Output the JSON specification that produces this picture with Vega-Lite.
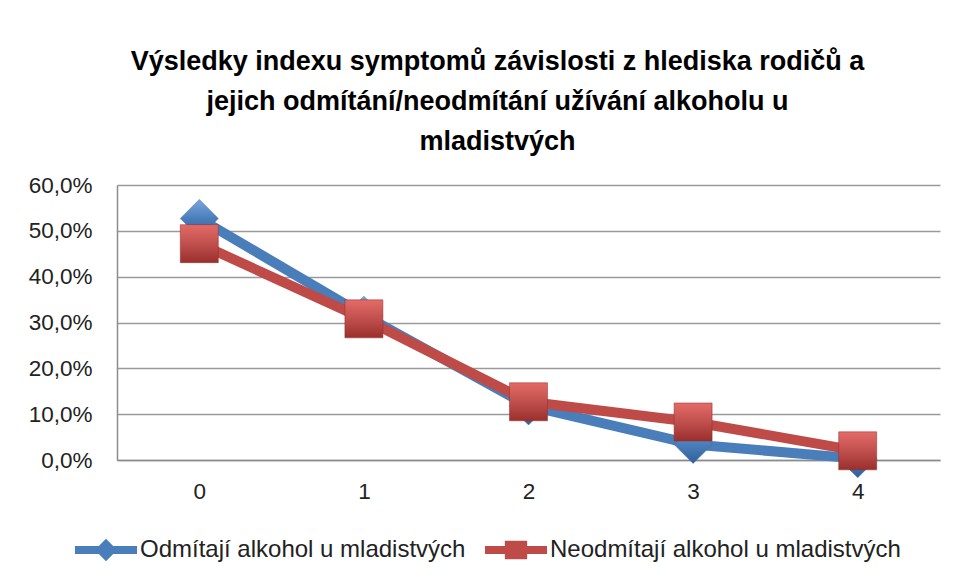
{
  "$schema": "https://vega.github.io/schema/vega-lite/v6.json",
  "width": 823,
  "height": 275,
  "autosize": {"type": "none"},
  "padding": {"left": 117, "top": 185, "right": 17, "bottom": 123},
  "background": "white",
  "config": {"view": {"stroke": null}, "font": "Liberation Sans"},
  "title": {
    "text": ["Výsledky indexu symptomů závislosti z hlediska rodičů a", "jejich odmítání/neodmítání  užívání alkoholu u", "mladistvých"],
    "fontSize": 27,
    "fontWeight": "bold",
    "font": "Liberation Sans",
    "color": "#000000",
    "lineHeight": 40,
    "anchor": "middle",
    "dx": -31,
    "offset": 18
  },
  "data": {
    "values": [
      {"index": "0", "series": "Odmítají alkohol u mladistvých", "value": 0.527},
      {"index": "1", "series": "Odmítají alkohol u mladistvých", "value": 0.316},
      {"index": "2", "series": "Odmítají alkohol u mladistvých", "value": 0.118},
      {"index": "3", "series": "Odmítají alkohol u mladistvých", "value": 0.034},
      {"index": "4", "series": "Odmítají alkohol u mladistvých", "value": 0.003},
      {"index": "0", "series": "Neodmítají alkohol u mladistvých", "value": 0.472},
      {"index": "1", "series": "Neodmítají alkohol u mladistvých", "value": 0.308},
      {"index": "2", "series": "Neodmítají alkohol u mladistvých", "value": 0.127},
      {"index": "3", "series": "Neodmítají alkohol u mladistvých", "value": 0.083},
      {"index": "4", "series": "Neodmítají alkohol u mladistvých", "value": 0.020}
    ]
  },
  "encoding": {
    "x": {
      "field": "index",
      "type": "ordinal",
      "axis": {
        "title": null,
        "labelAngle": 0,
        "labelFontSize": 22.5,
        "labelFont": "Liberation Sans",
        "labelColor": "#222222",
        "labelPadding": 20,
        "ticks": false,
        "domainColor": "#8c8c8c",
        "domainWidth": 1.5,
        "grid": false
      }
    },
    "y": {
      "field": "value",
      "type": "quantitative",
      "scale": {"domain": [0, 0.6]},
      "axis": {
        "title": null,
        "values": [0, 0.1, 0.2, 0.3, 0.4, 0.5, 0.6],
        "labelExpr": "replace(format(datum.value, '.1%'), '.', ',')",
        "labelFontSize": 22.5,
        "labelFont": "Liberation Sans",
        "labelColor": "#222222",
        "labelPadding": 25,
        "ticks": false,
        "domainColor": "#8c8c8c",
        "domainWidth": 1.5,
        "gridColor": "#9a9a9a",
        "gridWidth": 1.4
      }
    }
  },
  "layer": [
    {
      "transform": [{"filter": "datum.series === 'Odmítají alkohol u mladistvých'"}],
      "mark": {"type": "line", "strokeWidth": 10, "strokeJoin": "round", "strokeCap": "round"},
      "encoding": {
        "color": {
          "field": "series",
          "type": "nominal",
          "scale": {"domain": ["Odmítají alkohol u mladistvých", "Neodmítají alkohol u mladistvých"], "range": ["#4A7EBB", "#BE4B48"]},
          "legend": {
            "orient": "none",
            "legendX": -42,
            "legendY": 334,
            "direction": "horizontal",
            "title": null,
            "symbolSize": 3844,
            "symbolType": "M-1,-0.13 L1,-0.13 L1,0.13 L-1,0.13 Z M0,-0.36 L0.36,0 L0,0.36 L-0.36,0 Z",
            "symbolStrokeWidth": 0,
            "labelFontSize": 24,
            "labelFont": "Liberation Sans",
            "labelColor": "#222222",
            "labelOffset": 3,
            "labelLimit": 600,
            "columnPadding": 19,
            "encode": {
              "symbols": {
                "update": {
                  "shape": {"signal": "datum.value === 'Odmítají alkohol u mladistvých' ? 'M-1,-0.13 L1,-0.13 L1,0.13 L-1,0.13 Z M0,-0.36 L0.36,0 L0,0.36 L-0.36,0 Z' : 'M-1,-0.13 L1,-0.13 L1,0.13 L-1,0.13 Z M-0.36,-0.3 L0.36,-0.3 L0.36,0.3 L-0.36,0.3 Z'"},
                  "fill": {"signal": "scale('color', datum.value)"},
                  "strokeWidth": {"value": 0}
                }
              }
            }
          }
        }
      }
    },
    {
      "transform": [{"filter": "datum.series === 'Odmítají alkohol u mladistvých'"}],
      "mark": {
        "type": "point",
        "shape": "diamond",
        "filled": true,
        "size": 1444,
        "opacity": 1,
        "fill": {"gradient": "linear", "x1": 0, "y1": 0, "x2": 0, "y2": 1, "stops": [{"offset": 0, "color": "#7aa6e0"}, {"offset": 0.5, "color": "#4a7ebb"}, {"offset": 1, "color": "#30609a"}]},
        "stroke": "#3d6aa0",
        "strokeWidth": 0.5
      }
    },
    {
      "transform": [{"filter": "datum.series === 'Neodmítají alkohol u mladistvých'"}],
      "mark": {"type": "line", "strokeWidth": 10, "strokeJoin": "round", "strokeCap": "round"},
      "encoding": {
        "color": {"field": "series", "type": "nominal"}
      }
    },
    {
      "transform": [{"filter": "datum.series === 'Neodmítají alkohol u mladistvých'"}],
      "mark": {
        "type": "point",
        "shape": "square",
        "filled": true,
        "size": 1444,
        "opacity": 1,
        "fill": {"gradient": "linear", "x1": 0, "y1": 0, "x2": 0, "y2": 1, "stops": [{"offset": 0, "color": "#e46b67"}, {"offset": 0.5, "color": "#c0504d"}, {"offset": 1, "color": "#9a2f2c"}]},
        "stroke": "#8f2c2a",
        "strokeWidth": 0.5
      }
    }
  ]
}
